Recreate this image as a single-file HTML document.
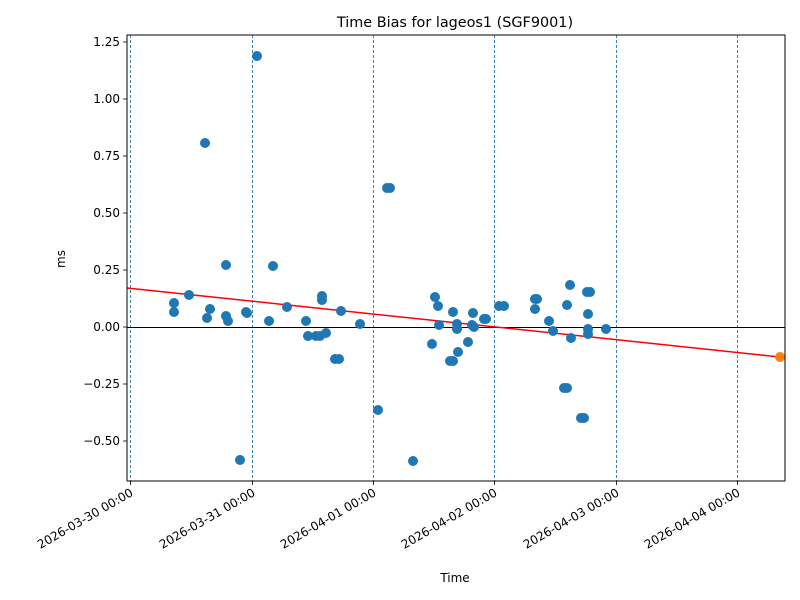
<!DOCTYPE html>
<html><head><meta charset="utf-8"><style>body{margin:0;background:#fff}svg{display:block}text{font-family:"DejaVu Sans","Liberation Sans",sans-serif;fill:#000}</style></head><body>
<svg width="800" height="600" viewBox="0 0 800 600" xmlns="http://www.w3.org/2000/svg">
<rect width="800" height="600" fill="#fff"/>
<g stroke="#1f77b4" stroke-width="1" stroke-dasharray="3,2" opacity="0.9">
<line x1="130.5" y1="35" x2="130.5" y2="481"/><line x1="252.5" y1="35" x2="252.5" y2="481"/><line x1="373.5" y1="35" x2="373.5" y2="481"/><line x1="494.5" y1="35" x2="494.5" y2="481"/><line x1="616.5" y1="35" x2="616.5" y2="481"/><line x1="737.5" y1="35" x2="737.5" y2="481"/>
</g>
<line x1="127" y1="327.5" x2="785" y2="327.5" stroke="#000" stroke-width="1"/>
<line x1="127" y1="288" x2="780" y2="357" stroke="#f00" stroke-width="1.5"/>
<g fill="#1f77b4">
<circle cx="174" cy="303" r="5"/><circle cx="174" cy="312" r="5"/><circle cx="189" cy="295" r="5"/><circle cx="205" cy="143" r="5"/><circle cx="207" cy="318" r="5"/><circle cx="210" cy="309" r="5"/><circle cx="226" cy="265" r="5"/><circle cx="226" cy="316" r="5"/><circle cx="228" cy="321" r="5"/><circle cx="240" cy="460" r="5"/><circle cx="246" cy="312" r="5"/><circle cx="247" cy="313" r="5"/><circle cx="257" cy="56" r="5"/><circle cx="269" cy="321" r="5"/><circle cx="273" cy="266" r="5"/><circle cx="287" cy="307" r="5"/><circle cx="306" cy="321" r="5"/><circle cx="308" cy="336" r="5"/><circle cx="316" cy="336" r="5"/><circle cx="320" cy="336" r="5"/><circle cx="322" cy="296" r="5"/><circle cx="322" cy="300" r="5"/><circle cx="326" cy="333" r="5"/><circle cx="335" cy="359" r="5"/><circle cx="339" cy="359" r="5"/><circle cx="341" cy="311" r="5"/><circle cx="360" cy="324" r="5"/><circle cx="378" cy="410" r="5"/><circle cx="387" cy="188" r="5"/><circle cx="390" cy="188" r="5"/><circle cx="413" cy="461" r="5"/><circle cx="432" cy="344" r="5"/><circle cx="435" cy="297" r="5"/><circle cx="438" cy="306" r="5"/><circle cx="439" cy="325" r="5"/><circle cx="450" cy="361" r="5"/><circle cx="453" cy="361" r="5"/><circle cx="453" cy="312" r="5"/><circle cx="457" cy="324" r="5"/><circle cx="457" cy="329" r="5"/><circle cx="458" cy="352" r="5"/><circle cx="468" cy="342" r="5"/><circle cx="472" cy="325" r="5"/><circle cx="473" cy="313" r="5"/><circle cx="474" cy="327" r="5"/><circle cx="484" cy="319" r="5"/><circle cx="486" cy="319" r="5"/><circle cx="499" cy="306" r="5"/><circle cx="504" cy="306" r="5"/><circle cx="535" cy="299" r="5"/><circle cx="537" cy="299" r="5"/><circle cx="535" cy="309" r="5"/><circle cx="549" cy="321" r="5"/><circle cx="553" cy="331" r="5"/><circle cx="564" cy="388" r="5"/><circle cx="567" cy="388" r="5"/><circle cx="567" cy="305" r="5"/><circle cx="570" cy="285" r="5"/><circle cx="571" cy="338" r="5"/><circle cx="581" cy="418" r="5"/><circle cx="584" cy="418" r="5"/><circle cx="587" cy="292" r="5"/><circle cx="590" cy="292" r="5"/><circle cx="588" cy="314" r="5"/><circle cx="588" cy="329" r="5"/><circle cx="588" cy="334" r="5"/><circle cx="606" cy="329" r="5"/>
</g>
<circle cx="780" cy="357" r="5" fill="#ff7f0e"/>
<rect x="127" y="35" width="658" height="446" fill="none" stroke="#000" stroke-width="1"/>
<g stroke="#000" stroke-width="0.8">
<line x1="127" y1="42" x2="123" y2="42"/><line x1="127" y1="99" x2="123" y2="99"/><line x1="127" y1="156" x2="123" y2="156"/><line x1="127" y1="213" x2="123" y2="213"/><line x1="127" y1="270" x2="123" y2="270"/><line x1="127" y1="327" x2="123" y2="327"/><line x1="127" y1="384" x2="123" y2="384"/><line x1="127" y1="441" x2="123" y2="441"/>
<line x1="130.5" y1="481" x2="130.5" y2="485"/><line x1="252.5" y1="481" x2="252.5" y2="485"/><line x1="373.5" y1="481" x2="373.5" y2="485"/><line x1="494.5" y1="481" x2="494.5" y2="485"/><line x1="616.5" y1="481" x2="616.5" y2="485"/><line x1="737.5" y1="481" x2="737.5" y2="485"/>
</g>
<g font-size="12" text-anchor="end">
<text x="120" y="46">1.25</text><text x="120" y="103">1.00</text><text x="120" y="160">0.75</text><text x="120" y="217">0.50</text><text x="120" y="274">0.25</text><text x="120" y="331">0.00</text><text x="120" y="388">−0.25</text><text x="120" y="445">−0.50</text>
<text transform="translate(134,495) rotate(-30)">2026-03-30 00:00</text>
<text transform="translate(256,495) rotate(-30)">2026-03-31 00:00</text>
<text transform="translate(377,495) rotate(-30)">2026-04-01 00:00</text>
<text transform="translate(498,495) rotate(-30)">2026-04-02 00:00</text>
<text transform="translate(620,495) rotate(-30)">2026-04-03 00:00</text>
<text transform="translate(741,495) rotate(-30)">2026-04-04 00:00</text>
</g>
<text x="455" y="582" font-size="12" text-anchor="middle">Time</text>
<text transform="translate(65,259) rotate(-90)" font-size="12" text-anchor="middle">ms</text>
<text x="455" y="27" font-size="14.4" text-anchor="middle">Time Bias for lageos1 (SGF9001)</text>
</svg>
</body></html>
